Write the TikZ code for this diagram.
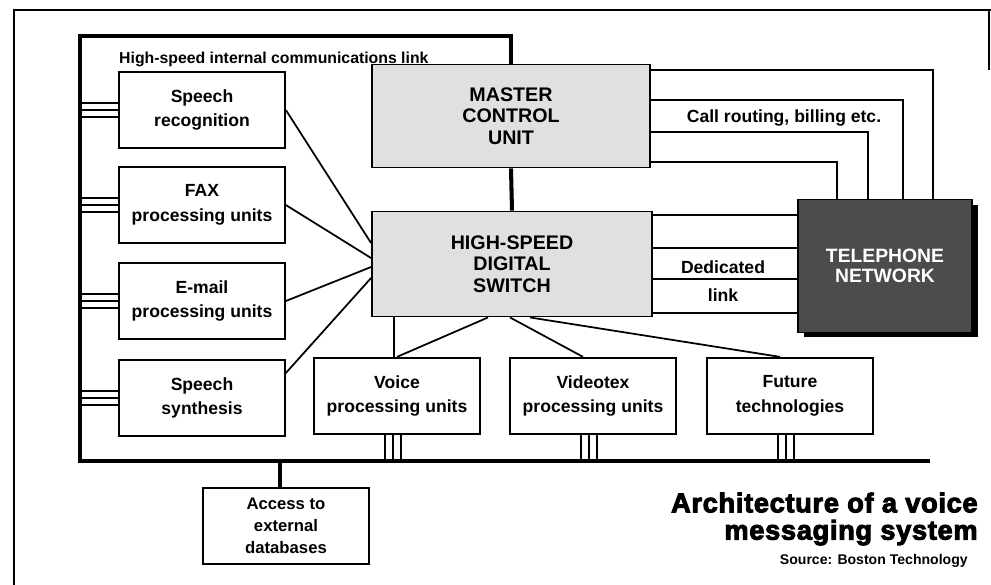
\documentclass[tikz,border=0pt]{standalone}
\usepackage{fontspec}
\setmainfont{Liberation Sans}
\newfontfamily\heavyfont[LetterSpace=2.5,BoldFeatures={FakeBold=3.5}]{Liberation Sans}
\usetikzlibrary{calc,shadows}

\begin{document}
\begin{tikzpicture}[x=0.02cm,y=-0.02cm,
  unit/.style={draw,line width=1pt,minimum width=3.32cm,minimum height=1.53cm,inner sep=0pt,align=center,font=\bfseries\fontsize{10}{14}\selectfont},
  core/.style={draw,line width=1.1pt,fill=black!12,inner sep=0pt,align=center,font=\bfseries\fontsize{11.2}{12.3}\selectfont},
  net/.style={draw,line width=1pt,fill=black!70,text=white,minimum width=3.48cm,minimum height=2.66cm,inner sep=0pt,align=center,font=\bfseries\fontsize{11}{11}\selectfont,drop shadow={shadow xshift=0.12cm,shadow yshift=-0.1cm,fill=black,opacity=1}},
  wire/.style={line width=1pt},
  bus/.style={line width=2.3pt},
  lbl/.style={font=\bfseries\fontsize{10}{14}\selectfont}]
\useasboundingbox (0,0) rectangle (991,585);

%frame
\draw[line width=1pt] (14,585) -- (14,10) -- (991,10);
\draw[line width=1pt] (989,10) -- (989,70);

%boxes
\node[unit] (sr) at (202,110) {Speech\\recognition};
\node[unit] (fax) at (202,205) {FAX\\processing units};
\node[unit] (mail) at (202,301) {E-mail\\processing units};
\node[unit] (synth) at (202,398) {Speech\\synthesis};
\node[unit] (voice) at (397,396) {Voice\\processing units};
\node[unit] (vtex) at (593,396) {Videotex\\processing units};
\node[unit] (future) at (790,396) {Future\\technologies};
\node[unit,font=\bfseries\fontsize{9.5}{12.5}\selectfont] (ext) at (286,526) {Access to\\external\\databases};
\node[core,minimum width=5.56cm,minimum height=2.06cm] (mcu) at (511,116) {MASTER\\CONTROL\\UNIT};
\node[core,minimum width=5.6cm,minimum height=2.1cm] (sw) at (512,264) {HIGH-SPEED\\DIGITAL\\SWITCH};
\node[net] (tel) at (885,266) {TELEPHONE\\NETWORK};

%link
\coordinate (lk) at (80,36);
\coordinate (le) at (930,461);
\draw[bus] (mcu.north) |- (lk) |- (le);
\draw[bus] (mcu.south) -- (sw.north);
\node[anchor=west,font=\bfseries\fontsize{9}{11}\selectfont] (linktxt) at (113,59) {High-speed internal communications link};

\foreach \b in {sr,fax,mail,synth}
  \foreach \d in {-7,0,7}
    \draw[wire] ($(\b.west)+(0,\d)$) coordinate (t) -- (t -| lk);
\foreach \b in {voice,vtex,future}
  \foreach \d in {-12,-4,4}
    \draw[wire] ($(\b.south)+(\d,0)$) coordinate (t) -- (t |- le);
\draw[bus] ($(ext.north)+(-6,0)$) coordinate (t) -- (t |- le);

%wires to switch
\draw[wire] (sr.east) -- ($(sw.west)+(0,-21)$);
\draw[wire] (fax.east) -- ($(sw.west)+(0,-6)$);
\draw[wire] (mail.east) -- ($(sw.west)+(0,3)$);
\draw[wire] ($(synth.east)+(0,-25)$) -- ($(sw.west)+(0,14)$);
\draw[wire] ($(sw.south)+(-118,0)$) coordinate (t) -- (t |- voice.north);
\draw[wire] ($(sw.south)+(-24,0)$) -- (voice.north);
\draw[wire] ($(sw.south)+(-2,0)$) -- ($(vtex.north)+(-10,0)$);
\draw[wire] ($(sw.south)+(18,0)$) -- ($(future.north)+(-10,0)$);

%telephone network
\foreach \dy/\dx in {-46/48,-16/18,16/-17,46/-48}
  \draw[wire] ($(mcu.east)+(0,\dy)$) -| ($(tel.north)+(\dx,0)$);
\foreach \dy in {-49,-16,15,49}
  \draw[wire] ($(sw.east)+(0,\dy)$) coordinate (t) -- (t -| tel.west);
\node[lbl] (route) at (784,118) {Call routing, billing etc.};
\node[lbl,align=center] (ded) at (723,281) {Dedicated\\[2pt]link};

%title
\node[anchor=east,align=right,inner sep=0pt,font=\heavyfont\bfseries\fontsize{15.5}{15.5}\selectfont] (title) at (978,519) {Architecture of a voice\\messaging system};
\node[anchor=east,inner sep=0pt,font=\bfseries\fontsize{8}{10}\selectfont] (src) at (968,561) {Source: Boston Technology};
\end{tikzpicture}
\end{document}
